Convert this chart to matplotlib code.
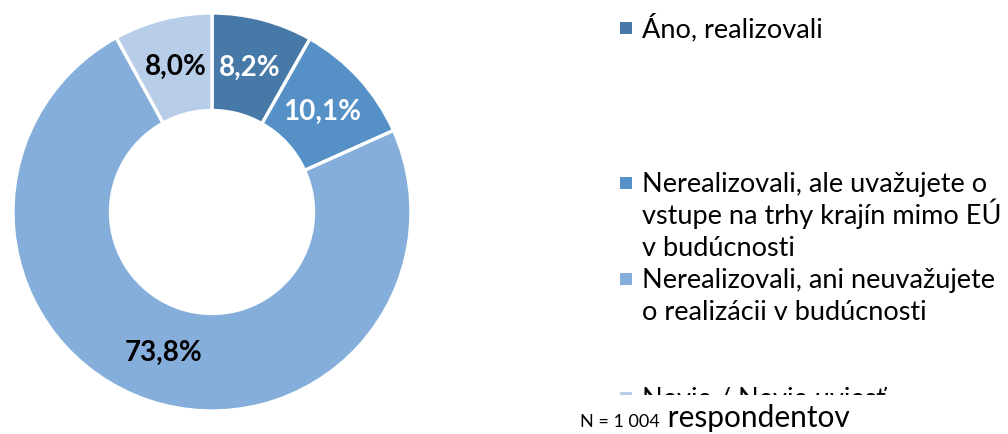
import matplotlib
matplotlib.use("Agg")
import matplotlib.pyplot as plt
from matplotlib.patches import Rectangle
import numpy as np

categories = [
    "Áno, realizovali",
    "Nerealizovali, ale uvažujete o\nvstupe na trhy krajín mimo EÚ\nv budúcnosti",
    "Nerealizovali, ani neuvažujete\no realizácii v budúcnosti",
    "Nevie / Nevie uviesť",
]
values = [8.2, 10.1, 73.8, 8.0]
pct_labels = ["8,2%", "10,1%", "73,8%", "8,0%"]
colors = ["#4678A8", "#5591C7", "#85AEDB", "#B7CDE8"]
label_colors = ["white", "white", "black", "black"]
note_small = "N = 1 004"
note_big = " respondentov"

W, H = 1008, 434
fig = plt.figure(figsize=(W / 100, H / 100), dpi=100)
FONT = "Lato"

cx, cy, R = 212, 212, 199
ax = fig.add_axes([(cx - R) / W, (H - cy - R) / H, 2 * R / W, 2 * R / H])
wedges, _ = ax.pie(values, colors=colors, startangle=90, counterclock=False,
                   radius=1.0, wedgeprops=dict(width=0.49, edgecolor="white", linewidth=2.4))
ax.set_xlim(-1, 1)
ax.set_ylim(-1, 1)
ax.set_aspect("equal")
ax.axis("off")

start = 90.0
for v, lab, c in zip(values, pct_labels, label_colors):
    ang = np.deg2rad(start - v * 3.6 / 2)
    start -= v * 3.6
    r = 0.75
    ax.text(r * np.cos(ang), r * np.sin(ang), lab, ha="center", va="center",
            fontsize=20, fontweight="bold", color=c, family=FONT)

# legend entries (manual placement to mimic layout)
leg_y = [28, 183, 279, 398]
line_h = 32
for lab, col, y in zip(categories, colors, leg_y):
    fig.patches.append(Rectangle((620 / W, (H - y - 6) / H), 12 / W, 12 / H,
                                 transform=fig.transFigure, facecolor=col, edgecolor="none"))
    for i, line in enumerate(lab.split("\n")):
        fig.text(642 / W, (H - y - i * line_h - 9) / H, line, ha="left", va="baseline",
                 fontsize=19.5, family=FONT, color="#000000")

# white cover clipping last legend entry
fig.patches.append(Rectangle((560 / W, 0), (W - 560) / W, (H - 395) / H,
                             transform=fig.transFigure, facecolor="white", edgecolor="none", zorder=5))

t1 = fig.text(580 / W, (H - 427) / H, note_small, ha="left", va="baseline", fontsize=13,
              family=FONT, zorder=6)
fig.canvas.draw()
bb = t1.get_window_extent()
fig.text(bb.x1 / W, (H - 427) / H, note_big, ha="left", va="baseline", fontsize=21.5,
         family=FONT, zorder=6)

fig.savefig("out.png", dpi=100)
